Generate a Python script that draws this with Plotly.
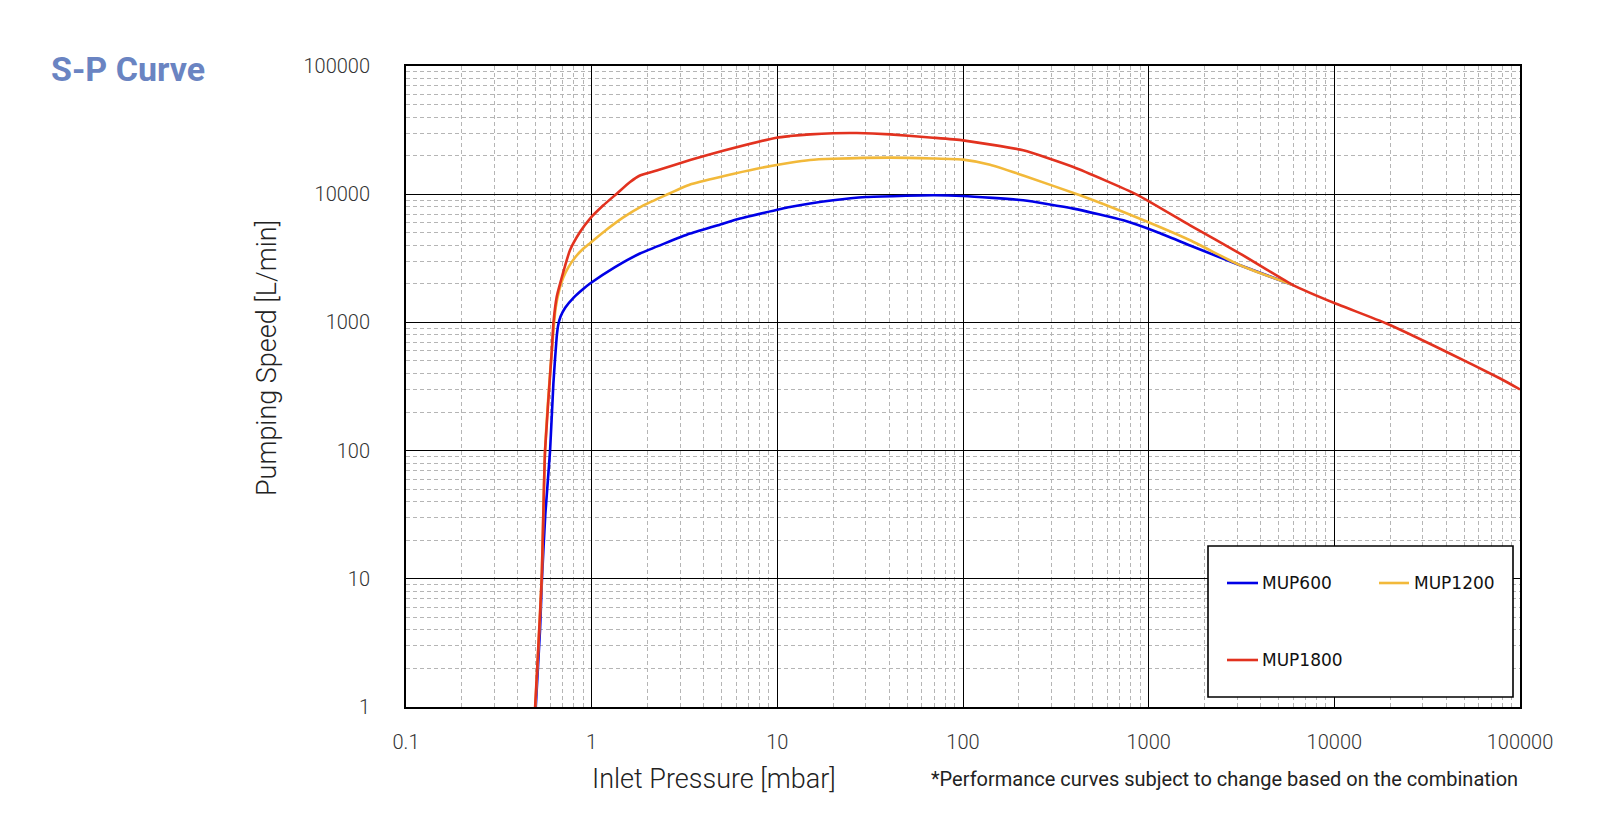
import plotly.graph_objects as go

# ---------------- data ----------------
mup600_x = [0.50, 0.527, 0.54, 0.563, 0.597, 0.622, 0.648, 0.66, 0.68, 0.72, 0.8, 0.9, 0.98, 1.336, 1.82,
            3.39, 5.1, 6.3, 11.7, 20, 30, 69, 100, 211, 393, 731, 1107, 1671, 3105, 6030]
mup600_y = [1, 4, 10, 32, 100, 333, 769, 950, 1110, 1300, 1560, 1820, 2010, 2700, 3445,
            4930, 5890, 6460, 7945, 8960, 9500, 9800, 9680, 8960, 7720, 6250, 5070, 3980, 2790, 1946]

mup1200_x = [0.497, 0.516, 0.538, 0.561, 0.61, 0.64, 0.67, 0.7, 0.75, 0.82, 0.9, 0.98, 1.205, 1.48, 1.9,
             2.53, 3.39, 5.1, 7.74, 11.7, 15, 20, 40.5, 69, 100, 140, 211, 427, 731, 1671, 3105, 6030]
mup1200_y = [1, 2.9, 10, 100, 600, 1300, 1800, 2200, 2700, 3250, 3750, 4150, 5300, 6600, 8190,
             9900, 11900, 13800, 15800, 17600, 18500, 18900, 19300, 19000, 18600, 17000, 14000, 9800, 7260,
             4370, 2790, 1946]

mup1800_x = [0.496, 0.516, 0.538, 0.549, 0.561, 0.61, 0.622, 0.648, 0.676, 0.764, 0.865, 0.98, 1.156,
             1.365, 1.61, 1.82, 2.24, 3.39, 5.1, 9.9, 11.7, 15, 20, 26.8, 40.5, 69, 100, 211, 393, 863, 1671,
             3105, 6030, 10000, 19100, 40300, 78200, 100000]
mup1800_y = [1, 2.94, 10, 32, 100, 605, 980, 1580, 2010, 3650, 5070, 6460, 8190,
             10100, 12450, 14000, 15300, 18500, 21800, 27600, 28400, 29300, 29900, 30000, 29300, 27600, 26300,
             22000, 16300, 9930, 5710, 3445, 1946, 1416, 980, 588, 365, 300]

series_names = ["MUP600", "MUP1200", "MUP1800"]
series_colors = ["#0000E6", "#F2B93A", "#E2321F"]

x_tickvals = [0.1, 1, 10, 100, 1000, 10000, 100000]
x_ticktext = ["0.1", "1", "10", "100", "1000", "10000", "100000"]
y_tickvals = [1, 10, 100, 1000, 10000, 100000]
y_ticktext = ["1", "10", "100", "1000", "10000", "100000"]

# ---------------- layout geometry ----------------
# page body has an 8px margin; all reference pixel positions are shifted by it
OFF = 8
W, H = 1600 - 2 * OFF, 819 - 2 * OFF
L, R, T, B = 406 - OFF, 1520 - OFF, 66 - OFF, 707 - OFF


def px(xp):
    return (xp - OFF - L) / (R - L)


def py(yp):
    return (B - (yp - OFF)) / (B - T)


LIGHT = "Roboto, Lato, 'Open Sans', sans-serif"
LEGF = "'DejaVu Sans', Verdana, sans-serif"

fig = go.Figure()
for xs, ys, name, col in zip([mup600_x, mup1200_x, mup1800_x],
                             [mup600_y, mup1200_y, mup1800_y],
                             series_names, series_colors):
    fig.add_trace(go.Scatter(x=xs, y=ys, mode="lines", name=name,
                             line=dict(color=col, width=2.6, shape="spline", smoothing=0.5),
                             showlegend=False))

axis_common = dict(
    type="log",
    showline=True, linecolor="black", linewidth=2, mirror=True,
    showgrid=True, gridcolor="black", gridwidth=1.2,
    ticks="", zeroline=False,
    tickfont=dict(family=LIGHT, size=20, color="#333333", weight=300),
    minor=dict(dtick="D1", showgrid=True, gridcolor="#b5b5b5", gridwidth=1,
               griddash="4px,3px", ticks=""),
)

fig.update_xaxes(range=[-1, 5], tickvals=x_tickvals, ticktext=x_ticktext,
                 ticklabelstandoff=16, **axis_common)
fig.update_yaxes(range=[0, 5], tickvals=y_tickvals, ticktext=y_ticktext,
                 ticklabelstandoff=30, **axis_common)

shapes = []
annotations = []

# legend box
shapes.append(dict(type="rect", xref="paper", yref="paper",
                   x0=px(1208), x1=px(1513), y0=py(697), y1=py(546),
                   fillcolor="white", line=dict(color="black", width=1.6), layer="above"))
leg_items = [(1227, 1258, 583, 1260, 0), (1379, 1409, 583, 1412, 1), (1227, 1258, 660, 1260, 2)]
for x0, x1, yy, tx, i in leg_items:
    shapes.append(dict(type="line", xref="paper", yref="paper",
                       x0=px(x0), x1=px(x1), y0=py(yy), y1=py(yy),
                       line=dict(color=series_colors[i], width=2.6), layer="above"))
    annotations.append(dict(text=series_names[i], xref="paper", yref="paper",
                            x=px(tx), y=py(yy), xanchor="left", yanchor="middle",
                            showarrow=False,
                            font=dict(family=LEGF, size=17, color="#111111")))

# title
annotations.append(dict(text="<b>S-P Curve</b>", xref="paper", yref="paper",
                        x=px(49), y=py(69), xanchor="left", yanchor="middle", showarrow=False,
                        font=dict(family=LIGHT, size=34, color="#6A84C2", weight=700)))
# axis titles
annotations.append(dict(text="Inlet Pressure [mbar]", xref="paper", yref="paper",
                        x=px(590), y=py(779), xanchor="left", yanchor="middle", showarrow=False,
                        font=dict(family=LIGHT, size=27, color="#222222", weight=300)))
annotations.append(dict(text="Pumping Speed [L/min]", xref="paper", yref="paper",
                        x=px(267), y=py(358), xanchor="center", yanchor="middle", showarrow=False,
                        textangle=-90,
                        font=dict(family=LIGHT, size=27, color="#222222", weight=300)))
# footnote
annotations.append(dict(text="*Performance curves subject to change based on the combination",
                        xref="paper", yref="paper",
                        x=px(1520), y=py(779), xanchor="right", yanchor="middle", showarrow=False,
                        font=dict(family=LIGHT, size=20, color="#222222", weight=400)))

fig.update_layout(
    width=W, height=H,
    margin=dict(l=L, r=W - R, t=T, b=H - B, pad=0),
    paper_bgcolor="white", plot_bgcolor="white",
    shapes=shapes, annotations=annotations,
    showlegend=False,
)

fig.write_html("out.html")
